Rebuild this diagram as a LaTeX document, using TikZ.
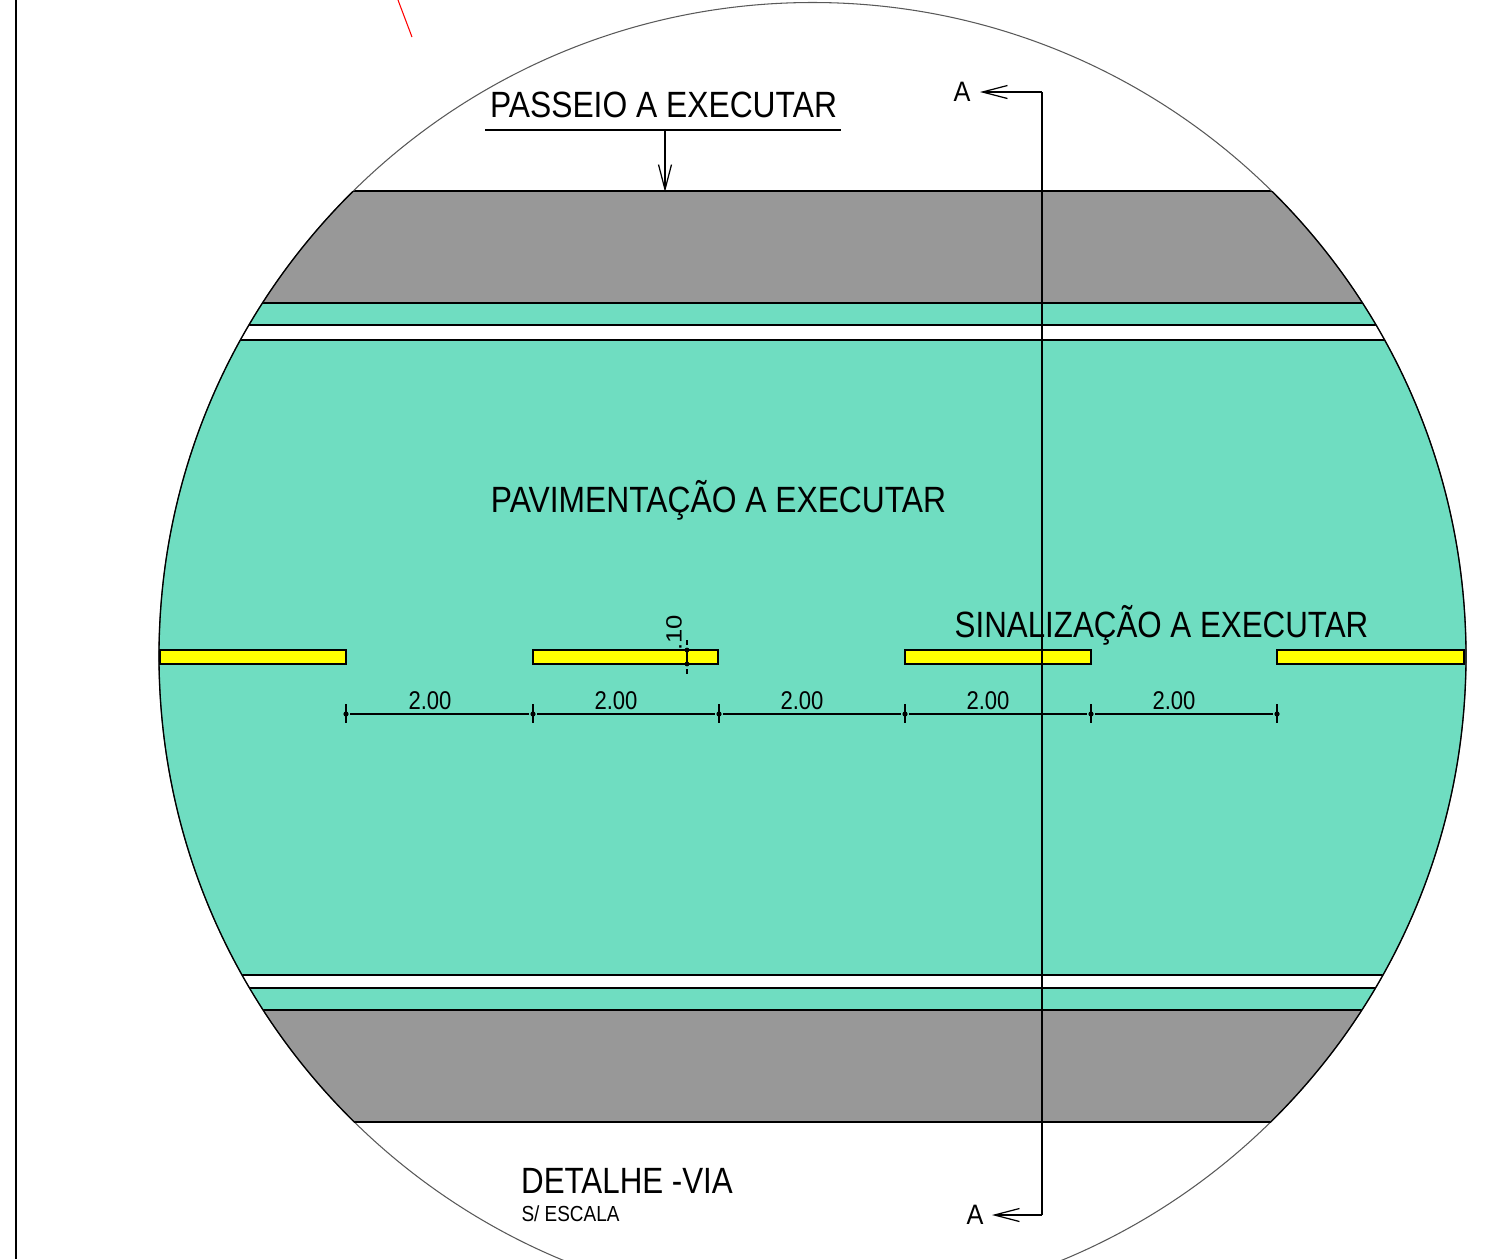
\documentclass[tikz,border=0pt]{standalone}
\usepackage{fontspec}
\setmainfont{Liberation Sans}
\usetikzlibrary{arrows.meta}
\definecolor{paveteal}{HTML}{6FDDC1}
\definecolor{walkgray}{HTML}{989898}
\definecolor{stripe}{HTML}{FFFF00}
\tikzset{
  x=0.02cm,y=-0.02cm,
  edgeline/.style={black,line width=0.75pt},
  bigtext/.style={inner sep=0pt,font=\fontsize{20.8}{22}\selectfont,text=black,xscale=0.87},
  dimtext/.style={inner sep=0pt,font=\fontsize{14.6}{16}\selectfont,text=black,xscale=0.86},
  dimline/.style={black,line width=0.7pt},
  barbarrow/.style={-{Straight Barb[length=0.5cm,width=0.26cm,line width=0.7pt]},line width=0.7pt,black},
  sectionline/.style={black,line width=0.8pt},
  stripebar/.style={fill=stripe,draw=black,line width=0.75pt},
}
\newcommand{\dimtick}[1]{%
  \draw[dimline] (#1,704) -- (#1,723);
  \fill[black] (#1,714) circle (2.6);
}
\begin{document}
\begin{tikzpicture}
\useasboundingbox (0,0) rectangle (1495,1259);
\fill[white] (0,0) rectangle (1495,1259);
\draw[black,line width=0.8pt] (16,0) -- (16,1259);
\coordinate (r1) at (398,0);
\coordinate (r2) at (412,37);
\draw[red,line width=0.6pt] (r1) -- (r2);
\begin{scope}
  \clip (812.5,656) circle (653.5);
  \fill[walkgray] (100,191) rectangle (1500,303);
  \fill[paveteal] (100,303) rectangle (1500,325);
  \fill[paveteal] (100,340) rectangle (1500,975);
  \fill[paveteal] (100,988) rectangle (1500,1010);
  \fill[walkgray] (100,1010) rectangle (1500,1122);
  \foreach \yy in {191,303,325,340,975,988,1010,1122}
    \draw[edgeline] (100,\yy) -- (1500,\yy);
\end{scope}
% circle outline
\draw[black!65,line width=0.6pt] (812.5,656) circle (653.5);
\begin{scope}
  \clip (0,191) rectangle (1495,1122);
  \draw[black,line width=0.75pt] (812.5,656) circle (653.5);
\end{scope}
% centre-line stripes
\draw[stripebar] (160,650) rectangle (346,664);
\draw[stripebar] (533,650) rectangle (718,664);
\draw[stripebar] (905,650) rectangle (1091,664);
\draw[stripebar] (1277,650) rectangle (1464,664);
% labels
\node[bigtext] (passeio) at (663.5,105) {PASSEIO A EXECUTAR};
\coordinate (ulA) at (485,130);
\coordinate (ulB) at (841,130);
\coordinate (ulM) at (665,130);
\coordinate (walkEdge) at (665,192);
\draw[black,line width=0.6pt] (ulA) -- (ulB);
\draw[barbarrow] (ulM) -- (walkEdge);
\node[bigtext] (pavim) at (718.5,500) {PAVIMENTAÇÃO A EXECUTAR};
\node[bigtext,xscale=0.985] (sinal) at (1161.5,625) {SINALIZAÇÃO A EXECUTAR};
\node[bigtext,xscale=0.985] (detalhe) at (627,1181) {DETALHE -VIA};
\node[inner sep=0pt,font=\fontsize{12.4}{14}\selectfont,xscale=0.87] (escala) at (570.5,1214) {S/ ESCALA};
% horizontal dimensions
\foreach \xx in {346,533,719,905,1091,1277} {\dimtick{\xx}}
\foreach \aa/\bb in {346/533,533/719,719/905,905/1091,1091/1277}
  \draw[dimline] (\aa+4,714) -- (\bb-4,714);
\node[dimtext] (d1) at (430,701) {2.00};
\node[dimtext] (d2) at (616,701) {2.00};
\node[dimtext] (d3) at (802,701) {2.00};
\node[dimtext] (d4) at (988,701) {2.00};
\node[dimtext] (d5) at (1174,701) {2.00};
% vertical small dimension
\draw[dimline] (687,650) -- (687,664);
\draw[dimline] (687,640) -- (687,645);
\draw[dimline] (687,669) -- (687,674);
\draw[dimline] (679,650) -- (695,650);
\draw[dimline] (679,664) -- (695,664);
\fill[black] (687,650) circle (2.4);
\fill[black] (687,664) circle (2.4);
\node[inner sep=0pt,font=\fontsize{14.6}{16}\selectfont,rotate=90,yscale=0.86] (d6) at (674,633) {.10};
% section line
\node[inner sep=0pt,font=\fontsize{16}{17}\selectfont,xscale=0.9] (secTop) at (962,92) {A};
\node[inner sep=0pt,font=\fontsize{16}{17}\selectfont,xscale=0.9] (secBot) at (975,1215) {A};
\coordinate (cTop) at (1042,92);
\coordinate (cBot) at (1042,1215);
\coordinate (tipTop) at (980,92);
\coordinate (tipBot) at (992,1215);
\draw[sectionline] (cTop) -- (cBot);
\draw[barbarrow] (cTop) -- (tipTop);
\draw[barbarrow] (cBot) -- (tipBot);
\end{tikzpicture}
\end{document}
